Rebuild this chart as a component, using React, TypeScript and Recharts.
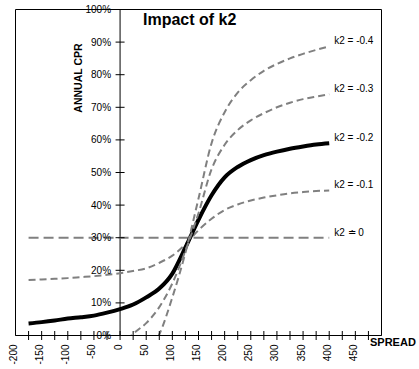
import React from "react";
import {
  Line,
  LineChart,
  ReferenceArea,
  ReferenceDot,
  ReferenceLine,
  XAxis,
  YAxis,
} from "recharts";

const SPREAD = [
  -175, -150, -125, -100, -75, -50, -25, 0, 25, 50, 75, 100, 125, 150, 175, 200,
  225, 250, 275, 300, 325, 350, 375, 400,
];

// annual CPR (%) per k2 value
const CPR_K2_0 = [
  30, 30, 30, 30, 30, 30, 30, 30, 30, 30, 30, 30, 30, 30, 30, 30, 30, 30, 30, 30,
  30, 30, 30, 30,
];
const CPR_K2_M01 = [
  17.0, 17.2, 17.4, 17.6, 17.9, 18.2, 18.6, 19.1, 19.8, 20.6, 22.3, 24.5, 28.0,
  32.3, 35.8, 38.5, 40.2, 41.4, 42.3, 43.0, 43.6, 44.0, 44.3, 44.5,
];
const CPR_K2_M02 = [
  3.7, 4.1, 4.6, 5.2, 5.6, 6.1, 7.0, 8.1, 9.5, 11.7, 14.4, 19.0, 27.0, 35.5, 43.0,
  48.5, 51.7, 53.8, 55.3, 56.4, 57.3, 58.0, 58.6, 59.0,
];
const CPR_K2_M03 = [
  null, null, null, null, null, null, null, -4, 0.5, 3.8, 8.7, 16.0, 26.0, 37.5,
  51.0, 58.5, 63.0, 66.0, 68.2, 70.0, 71.4, 72.5, 73.3, 74.0,
];
const CPR_K2_M04 = [
  null, null, null, null, null, null, null, null, null, -6, 0.3, 11.7, 25.4, 42.0,
  59.0, 68.5, 74.5, 78.3, 81.2, 83.3, 85.0, 86.4, 87.6, 88.7,
];

const X_TICKS = [
  -200, -175, -150, -125, -100, -75, -50, -25, 0, 25, 50, 75, 100, 125, 150, 175,
  200, 225, 250, 275, 300, 325, 350, 375, 400, 425, 450, 475, 500,
];
const Y_TICKS = [0, 10, 20, 30, 40, 50, 60, 70, 80, 90, 100];

const SERIES = [
  { key: "k0", label: "k2 \u2250  0", values: CPR_K2_0, color: "#808080", width: 2, dash: "10 5" },
  { key: "k1", label: "k2 = -0.1", values: CPR_K2_M01, color: "#808080", width: 2, dash: "7 4" },
  { key: "k2", label: "k2 = -0.2", values: CPR_K2_M02, color: "#000000", width: 4, dash: undefined },
  { key: "k3", label: "k2 = -0.3", values: CPR_K2_M03, color: "#808080", width: 2, dash: "7 4" },
  { key: "k4", label: "k2 = -0.4", values: CPR_K2_M04, color: "#808080", width: 2, dash: "7 4" },
];

const data = SPREAD.map((spread, i) => {
  const row: Record<string, number | null> = { spread };
  SERIES.forEach((s) => {
    row[s.key] = s.values[i];
  });
  return row;
});

const FONT = '"Liberation Sans", Arial, sans-serif';

function SpreadTick(props: any) {
  const { x, y, payload } = props;
  const v = payload.value;
  const inside = v > -200 && v < 500;
  return (
    <g>
      {inside && <line x1={x} x2={x} y1={y - 4.5} y2={y + 4.5} stroke="#000" />}
      {v % 50 === 0 && v < 500 && (
        <text
          x={x + 1.5}
          y={y + 9}
          transform={`rotate(-90 ${x + 1.5} ${y + 9})`}
          textAnchor="end"
          fontSize={10}
          fontFamily={FONT}
          fill="#000"
        >
          {v}
        </text>
      )}
    </g>
  );
}

export default function App() {
  return (
    <div style={{ position: "absolute", left: 0, top: 0, width: 419, height: 369, background: "#fff" }}>
      <LineChart
        width={419}
        height={369}
        data={data}
        margin={{ left: 15.5, top: 9.5, right: 37.5, bottom: 3.5 }}
      >
        <XAxis
          dataKey="spread"
          type="number"
          domain={[-200, 500]}
          ticks={X_TICKS}
          interval={0}
          allowDataOverflow
          height={30}
          tickSize={0}
          tickMargin={0}
          tickLine={false}
          axisLine={{ stroke: "#000" }}
          tick={(p: any) => <SpreadTick {...p} />}
        />
        <YAxis hide type="number" domain={[0, 100]} allowDataOverflow />
        <ReferenceArea
          x1={-200}
          x2={500}
          y1={0}
          y2={100}
          fill="none"
          fillOpacity={0}
          stroke="#000"
          strokeWidth={1}
          ifOverflow="visible"
        />
        <ReferenceLine x={0} stroke="#000" ifOverflow="visible" />
        {Y_TICKS.map((v) => (
          <ReferenceDot
            key={`yt${v}`}
            x={0}
            y={v}
            r={0}
            ifOverflow="visible"
            shape={(p: any) => (
              <g>
                <line x1={p.cx - 4.5} x2={p.cx + 4.5} y1={p.cy} y2={p.cy} stroke="#000" />
                <text
                  x={p.cx - 9}
                  y={p.cy + 3.5}
                  textAnchor="end"
                  fontSize={10}
                  fontFamily={FONT}
                  fill="#000"
                >
                  {`${v}%`}
                </text>
              </g>
            )}
          />
        ))}
        {SERIES.map((s) => (
          <Line
            key={s.key}
            dataKey={s.key}
            type="monotone"
            stroke={s.color}
            strokeWidth={s.width}
            strokeDasharray={s.dash}
            dot={false}
            activeDot={false}
            isAnimationActive={false}
          />
        ))}
        {SERIES.map((s) => (
          <ReferenceDot
            key={`lbl${s.key}`}
            x={SPREAD[SPREAD.length - 1]}
            y={s.values[s.values.length - 1] as number}
            r={0}
            ifOverflow="visible"
            shape={(p: any) => (
              <text
                x={p.cx + 5}
                y={p.cy - 2}
                fontSize={10}
                fontFamily={FONT}
                fill="#000"
              >
                {s.label}
              </text>
            )}
          />
        ))}
      </LineChart>
      <svg
        width={419}
        height={369}
        style={{ position: "absolute", left: 0, top: 0, pointerEvents: "none" }}
      >
        <text x={143} y={25} fontSize={16} fontWeight="bold" fontFamily={FONT} fill="#000">
          Impact of k2
        </text>
        <text
          x={81.5}
          y={78}
          transform="rotate(-90 81.5 78)"
          textAnchor="middle"
          fontSize={10.5}
          fontWeight="bold"
          fontFamily={FONT}
          fill="#000"
        >
          ANNUAL CPR
        </text>
        <text x={370} y={346} fontSize={11} fontWeight="bold" fontFamily={FONT} fill="#000">
          SPREAD
        </text>
      </svg>
    </div>
  );
}
